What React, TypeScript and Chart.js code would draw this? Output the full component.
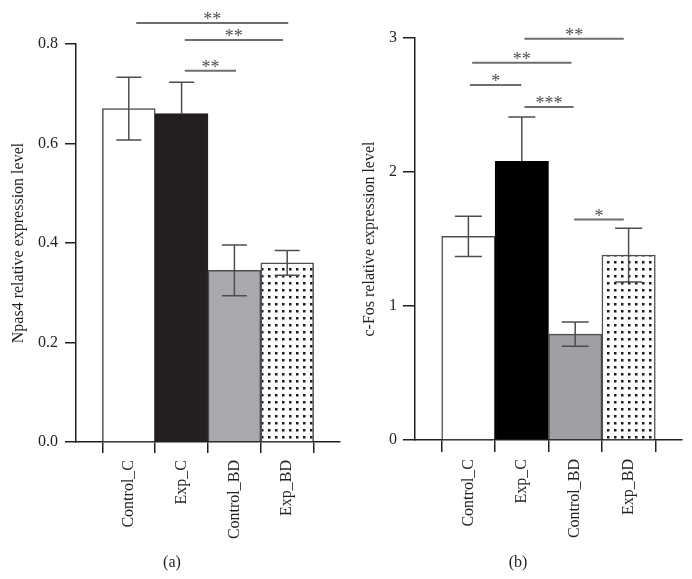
import React, { useEffect, useRef } from 'react';
import { Chart, registerables } from 'chart.js';
Chart.register(...registerables);

// ---------- data ----------
const categories = ['Control_C', 'Exp_C', 'Control_BD', 'Exp_BD'];
const categoryPositions = [1, 2, 3, 4];

const npas4Means = [0.67, 0.66, 0.345, 0.36];
const npas4Errors = [0.063, 0.063, 0.051, 0.025];
const npas4Ticks = [0, 0.2, 0.4, 0.6, 0.8];
const npas4SigFrom = [1.14, 2.06, 2.06];
const npas4SigTo = [4.02, 3.92, 3.03];
const npas4SigY = [0.842, 0.808, 0.746];
const npas4SigLabels = ['**', '**', '**'];

const cfosMeans = [1.52, 2.08, 0.79, 1.38];
const cfosErrors = [0.15, 0.33, 0.09, 0.2];
const cfosTicks = [0, 1, 2, 3];
const cfosSigFrom = [2.05, 1.07, 1.03, 2.05, 2.98];
const cfosSigTo = [3.91, 2.93, 1.99, 2.97, 3.91];
const cfosSigY = [2.995, 2.816, 2.65, 2.486, 1.645];
const cfosSigLabels = ['**', '**', '*', '***', '*'];

// ---------- style ----------
const FONT_FAMILY = '"Liberation Serif", "Times New Roman", serif';
const AXIS_COLOR = '#231f20';
const EDGE_COLOR = '#4d4d4f';
const SIG_COLOR = '#6d6e71';

function makeDotPattern(): CanvasPattern | string {
  const c = document.createElement('canvas');
  c.width = 7;
  c.height = 7;
  const g = c.getContext('2d');
  if (!g) return '#ffffff';
  g.fillStyle = '#ffffff';
  g.fillRect(0, 0, 7, 7);
  g.fillStyle = '#1a1a1a';
  g.fillRect(2, 2, 2.5, 2.5);
  return g.createPattern(c, 'repeat') || '#ffffff';
}

type PanelProps = {
  left: number;
  width: number;
  height: number;
  means: number[];
  errors: number[];
  yTicks: number[];
  decimals: number;
  sigFrom: number[];
  sigTo: number[];
  sigY: number[];
  sigLabels: string[];
  title: string;
  fills: string[];
  padTop: number;
  padRight: number;
  yAxisWidth: number;
  xAxisHeight: number;
  titlePad: number;
  tickLen: number;
  tickPad: number;
  capHalf: number;
};

function Panel(p: PanelProps) {
  const ref = useRef<HTMLCanvasElement | null>(null);
  useEffect(() => {
    if (!ref.current) return;
    const pattern = makeDotPattern();
    const bg = p.fills.map((f) => (f === 'dots' ? pattern : f));
    const borders = p.fills.map((f) => (f === '#000000' || f === '#231f20' ? f : EDGE_COLOR));
    const showLower = p.fills.map((f) => !(f === '#000000' || f === '#231f20'));
    const font = { family: FONT_FAMILY, size: 16 };

    const errorPlugin = {
      id: 'errorBars',
      afterDatasetsDraw(chart: any) {
        const { ctx } = chart;
        const x = chart.scales.x;
        const y = chart.scales.y;
        ctx.save();
        ctx.strokeStyle = EDGE_COLOR;
        ctx.lineWidth = 1.5;
        p.means.forEach((m, i) => {
          const px = x.getPixelForValue(categoryPositions[i]);
          const top = y.getPixelForValue(m + p.errors[i]);
          const mid = y.getPixelForValue(m);
          const bot = y.getPixelForValue(m - p.errors[i]);
          ctx.beginPath();
          ctx.moveTo(px, top);
          ctx.lineTo(px, showLower[i] ? bot : mid);
          ctx.moveTo(px - p.capHalf, top);
          ctx.lineTo(px + p.capHalf, top);
          if (showLower[i]) {
            ctx.moveTo(px - p.capHalf, bot);
            ctx.lineTo(px + p.capHalf, bot);
          }
          ctx.stroke();
        });
        ctx.restore();
      },
    };

    const sigPlugin = {
      id: 'significance',
      afterDraw(chart: any) {
        const { ctx } = chart;
        const x = chart.scales.x;
        const y = chart.scales.y;
        ctx.save();
        ctx.strokeStyle = SIG_COLOR;
        ctx.lineWidth = 2;
        ctx.fillStyle = '#4d4d4f';
        ctx.font = `18px ${FONT_FAMILY}`;
        ctx.textAlign = 'center';
        ctx.textBaseline = 'alphabetic';
        p.sigY.forEach((v, i) => {
          const x0 = x.getPixelForValue(p.sigFrom[i]);
          const x1 = x.getPixelForValue(p.sigTo[i]);
          const py = y.getPixelForValue(v);
          ctx.beginPath();
          ctx.moveTo(x0, py);
          ctx.lineTo(x1, py);
          ctx.stroke();
          ctx.fillText(p.sigLabels[i], (x0 + x1) / 2, py + 2);
        });
        ctx.restore();
      },
    };

    const gridOpts = {
      display: true,
      drawOnChartArea: false,
      drawTicks: true,
      tickLength: p.tickLen,
      color: AXIS_COLOR,
      lineWidth: 1.5,
    };
    const borderOpts = { display: true, color: AXIS_COLOR, width: 1.5 };

    const chart = new Chart(ref.current, {
      type: 'bar',
      data: {
        datasets: [
          {
            data: p.means.map((m, i) => ({ x: categoryPositions[i], y: m })),
            backgroundColor: bg as any,
            borderColor: borders,
            borderWidth: 1.5,
            barPercentage: 1,
            categoryPercentage: 1,
          } as any,
        ],
      },
      options: {
        animation: false,
        responsive: false,
        layout: { padding: { top: p.padTop, right: p.padRight, left: 0, bottom: 0 } },
        plugins: { legend: { display: false }, tooltip: { enabled: false } },
        scales: {
          x: {
            type: 'linear',
            min: 0,
            max: categories.length + 1,
            offset: false,
            afterBuildTicks: (s: any) => {
              s.ticks = categoryPositions.map((v) => ({ value: v }));
            },
            afterFit: (s: any) => {
              s.height = p.xAxisHeight;
            },
            ticks: {
              autoSkip: false,
              maxRotation: 90,
              minRotation: 90,
              padding: 7,
              font,
              color: AXIS_COLOR,
              callback: (v: any) => {
                const idx = categoryPositions.indexOf(Number(v));
                return idx >= 0 ? categories[idx] : '';
              },
            },
            grid: gridOpts,
            border: borderOpts,
          } as any,
          y: {
            min: 0,
            max: p.yTicks[p.yTicks.length - 1],
            afterBuildTicks: (s: any) => {
              s.ticks = p.yTicks.map((v) => ({ value: v }));
            },
            afterFit: (s: any) => {
              s.width = p.yAxisWidth;
            },
            ticks: {
              padding: p.tickPad,
              font,
              color: AXIS_COLOR,
              callback: (v: any) => Number(v).toFixed(p.decimals),
            },
            grid: gridOpts,
            border: borderOpts,
            title: {
              display: true,
              text: p.title,
              font,
              color: AXIS_COLOR,
              padding: { top: p.titlePad, bottom: 0 },
            },
          } as any,
        },
      },
      plugins: [errorPlugin, sigPlugin],
    });
    return () => chart.destroy();
  }, []);
  return (
    <canvas
      ref={ref}
      width={p.width}
      height={p.height}
      style={{ position: 'absolute', left: p.left, top: 0, width: p.width, height: p.height }}
    />
  );
}

const captionStyle = (cx: number): React.CSSProperties => ({
  position: 'absolute',
  left: cx - 30,
  width: 60,
  top: 552,
  lineHeight: '20px',
  textAlign: 'center',
  fontFamily: FONT_FAMILY,
  fontSize: 16,
  color: AXIS_COLOR,
});

export default function App() {
  return (
    <div
      style={{
        position: 'fixed',
        left: 0,
        top: 0,
        width: 692,
        height: 579,
        background: '#ffffff',
        overflow: 'hidden',
      }}
    >
      <Panel
        left={0}
        width={346}
        height={579}
        means={npas4Means}
        errors={npas4Errors}
        yTicks={npas4Ticks}
        decimals={1}
        sigFrom={npas4SigFrom}
        sigTo={npas4SigTo}
        sigY={npas4SigY}
        sigLabels={npas4SigLabels}
        title="Npas4 relative expression level"
        fills={['#ffffff', '#231f20', '#a7a9ac', 'dots']}
        padTop={44}
        padRight={6}
        yAxisWidth={76}
        xAxisHeight={137}
        titlePad={9}
        tickLen={11}
        tickPad={7}
        capHalf={12.5}
      />
      <Panel
        left={346}
        width={346}
        height={579}
        means={cfosMeans}
        errors={cfosErrors}
        yTicks={cfosTicks}
        decimals={0}
        sigFrom={cfosSigFrom}
        sigTo={cfosSigTo}
        sigY={cfosSigY}
        sigLabels={cfosSigLabels}
        title="c-Fos relative expression level"
        fills={['#ffffff', '#000000', '#a0a0a4', 'dots']}
        padTop={38}
        padRight={10}
        yAxisWidth={69}
        xAxisHeight={139}
        titlePad={14}
        tickLen={12}
        tickPad={6}
        capHalf={13.5}
      />
      <div style={captionStyle(172)}>(a)</div>
      <div style={captionStyle(518)}>(b)</div>
    </div>
  );
}
